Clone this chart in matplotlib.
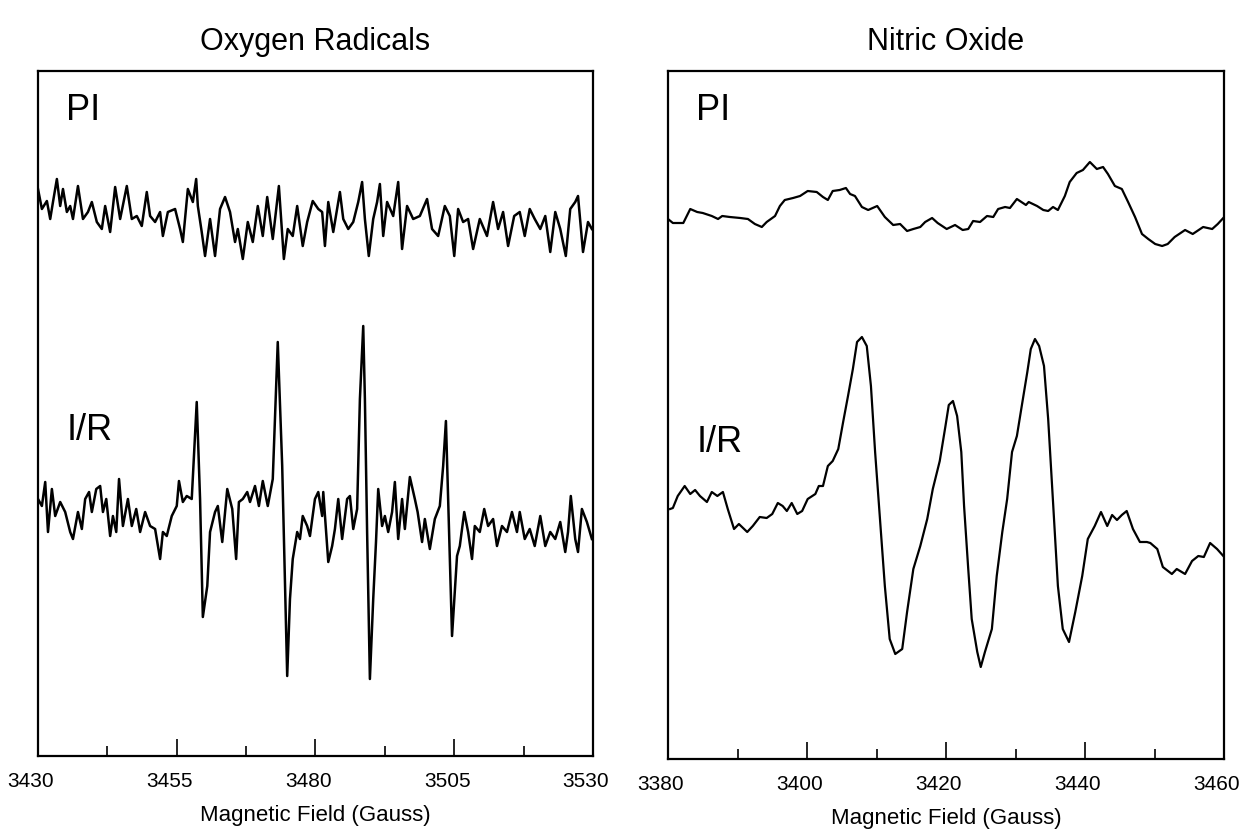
import matplotlib
matplotlib.use("Agg")
import matplotlib.pyplot as plt
import matplotlib.transforms as mtransforms

plt.rcParams['font.family'] = ['Liberation Sans Narrow', 'Liberation Sans', 'DejaVu Sans']

# Oxygen radicals (DMPO adduct), field in Gauss, intensity in arbitrary units
o2_pi_field = [3430.0, 3430.7, 3431.6, 3432.2, 3432.7, 3433.4, 3434.0, 3434.5, 3435.2, 3435.8,
               3436.3, 3437.2, 3438.1, 3439.0, 3439.7, 3440.6, 3441.5, 3442.1, 3443.0, 3443.9,
               3444.8, 3446.0, 3446.9, 3447.8, 3448.7, 3449.6, 3450.2, 3451.1, 3452.0, 3452.5,
               3453.4, 3454.7, 3455.6, 3456.1, 3457.0, 3457.9, 3458.5, 3458.8, 3459.5, 3460.1,
               3461.0, 3461.9, 3462.8, 3463.7, 3464.6, 3465.5, 3466.0, 3466.9, 3467.8, 3468.7,
               3469.6, 3470.5, 3471.3, 3472.3, 3473.4, 3474.3, 3475.0, 3475.9, 3476.7, 3477.7,
               3478.5, 3479.5, 3480.5, 3481.2, 3481.7, 3482.3, 3483.2, 3484.4, 3485.0, 3485.9,
               3486.8, 3487.7, 3488.4, 3488.9, 3489.6, 3490.4, 3491.1, 3491.6, 3492.2, 3492.9,
               3494.0, 3494.9, 3495.6, 3496.5, 3497.6, 3498.8, 3500.1, 3501.0, 3502.1, 3503.3,
               3504.2, 3505.0, 3505.7, 3506.6, 3507.5, 3508.4, 3509.6, 3510.9, 3512.0, 3512.9,
               3513.8, 3514.7, 3515.8, 3516.8, 3517.7, 3518.6, 3519.5, 3520.5, 3521.4, 3522.3,
               3523.2, 3524.1, 3525.1, 3525.9, 3526.8, 3527.3, 3528.2, 3529.1, 3529.8]
o2_pi_signal = [567, 547, 555, 537, 554, 577, 550, 567, 544, 550,
                537, 570, 537, 544, 554, 534, 527, 550, 524, 569,
                537, 570, 537, 540, 530, 564, 540, 534, 544, 520,
                544, 547, 527, 514, 567, 554, 577, 550, 524, 500,
                537, 500, 547, 559, 544, 514, 527, 497, 534, 514,
                550, 520, 559, 517, 570, 497, 527, 520, 550, 510,
                534, 555, 547, 544, 510, 554, 524, 564, 537, 527,
                534, 554, 574, 537, 500, 537, 554, 572, 520, 554,
                540, 574, 507, 550, 537, 540, 557, 527, 520, 550,
                540, 500, 547, 534, 537, 507, 537, 520, 554, 527,
                544, 510, 540, 544, 520, 547, 537, 527, 540, 504,
                544, 527, 500, 547, 554, 560, 504, 534, 527]

o2_ir_field = [3430.0, 3430.7, 3431.3, 3431.8, 3432.5, 3433.1, 3434.0, 3434.9, 3435.8, 3436.3,
               3437.2, 3437.9, 3438.5, 3439.2, 3439.7, 3440.5, 3441.2, 3441.7, 3442.3, 3443.0,
               3443.5, 3444.1, 3444.6, 3445.3, 3446.2, 3446.9, 3447.7, 3448.4, 3449.3, 3450.2,
               3451.1, 3452.0, 3452.5, 3453.2, 3454.1, 3455.0, 3455.4, 3456.1, 3456.8, 3457.7,
               3458.6, 3459.2, 3459.7, 3460.5, 3461.0, 3461.9, 3462.4, 3463.2, 3464.1, 3465.0,
               3465.7, 3466.2, 3466.9, 3467.7, 3468.2, 3469.1, 3469.8, 3470.5, 3471.4, 3472.3,
               3473.2, 3474.0, 3474.9, 3475.4, 3475.9, 3476.7, 3477.2, 3477.7, 3478.5, 3479.0,
               3479.9, 3480.5, 3481.2, 3481.4, 3482.3, 3483.0, 3483.5, 3484.1, 3484.8, 3485.7,
               3486.2, 3486.8, 3487.5, 3488.0, 3488.6, 3488.9, 3489.3, 3489.8, 3490.4, 3490.9,
               3491.3, 3492.0, 3492.5, 3493.1, 3493.8, 3494.3, 3494.9, 3495.6, 3496.1, 3497.0,
               3497.9, 3498.4, 3499.2, 3499.7, 3500.6, 3501.5, 3502.4, 3503.0, 3503.5, 3503.9,
               3504.6, 3505.5, 3506.0, 3506.8, 3507.5, 3508.2, 3508.7, 3509.6, 3510.4, 3511.1,
               3512.0, 3512.7, 3513.6, 3514.5, 3515.4, 3516.3, 3516.8, 3517.7, 3518.6, 3519.5,
               3520.5, 3521.4, 3522.3, 3523.2, 3524.1, 3525.0, 3525.5, 3526.0, 3526.8, 3527.3,
               3528.0, 3528.9, 3529.8]
o2_ir_signal = [257, 250, 274, 224, 267, 240, 254, 244, 224, 217,
                244, 227, 257, 264, 244, 267, 270, 244, 257, 220,
                240, 224, 277, 230, 257, 230, 247, 224, 244, 230,
                227, 197, 224, 220, 240, 250, 275, 254, 260, 257,
                354, 257, 139, 170, 224, 244, 250, 214, 267, 247,
                197, 254, 257, 264, 254, 270, 250, 275, 250, 277,
                414, 290, 80, 157, 197, 224, 217, 240, 230, 220,
                257, 264, 240, 264, 194, 210, 227, 257, 217, 257,
                260, 227, 247, 357, 430, 357, 224, 77, 157, 214,
                267, 230, 240, 224, 244, 274, 217, 257, 227, 279,
                257, 244, 214, 237, 207, 237, 250, 290, 335, 257,
                120, 200, 210, 244, 224, 197, 230, 224, 247, 230,
                237, 210, 230, 224, 244, 224, 244, 217, 227, 210,
                240, 210, 224, 217, 234, 204, 224, 260, 217, 204,
                247, 234, 217]

# Nitric oxide (iron-dithiocarbamate adduct)
no_pi_field = [3380.0, 3380.7, 3382.2, 3383.2, 3384.2, 3385.0, 3386.3, 3387.2, 3387.8, 3388.9,
               3390.4, 3391.5, 3392.5, 3393.5, 3394.2, 3395.4, 3396.1, 3396.8, 3398.0, 3399.0,
               3400.1, 3401.4, 3402.3, 3403.0, 3403.7, 3404.7, 3405.6, 3406.2, 3406.9, 3407.9,
               3408.8, 3410.1, 3411.2, 3412.4, 3413.4, 3414.4, 3415.3, 3416.3, 3417.0, 3418.0,
               3418.8, 3420.1, 3421.3, 3422.4, 3423.2, 3423.9, 3424.9, 3425.9, 3426.8, 3427.5,
               3428.5, 3429.2, 3430.2, 3431.5, 3431.9, 3433.1, 3434.0, 3434.7, 3435.4, 3436.1,
               3437.1, 3437.8, 3438.8, 3439.7, 3440.7, 3441.7, 3442.6, 3443.3, 3444.3, 3445.3,
               3446.2, 3447.2, 3448.2, 3449.1, 3450.1, 3451.1, 3451.9, 3452.9, 3454.4, 3455.5,
               3457.0, 3458.3, 3459.1, 3459.9]
no_pi_signal = [540, 536, 536, 550, 547, 546, 543, 540, 543, 542,
                541, 540, 535, 532, 537, 543, 553, 559, 561, 563,
                568, 567, 562, 559, 568, 569, 571, 565, 563, 552,
                549, 553, 542, 534, 535, 528, 530, 532, 537, 541,
                536, 530, 534, 529, 530, 538, 537, 543, 542, 550,
                552, 551, 560, 554, 557, 553, 549, 548, 552, 549,
                563, 577, 586, 589, 597, 590, 592, 585, 573, 570,
                557, 542, 525, 520, 515, 513, 515, 522, 529, 525,
                532, 530, 535, 541]

no_ir_field = [3380.3, 3380.7, 3381.4, 3382.4, 3383.2, 3383.9, 3384.6, 3385.6, 3386.3, 3387.1,
               3387.9, 3388.6, 3389.5, 3390.2, 3391.4, 3392.2, 3393.2, 3394.2, 3395.0, 3395.8,
               3396.5, 3397.1, 3397.8, 3398.6, 3399.3, 3400.1, 3401.2, 3401.7, 3402.3, 3403.0,
               3403.7, 3404.5, 3405.2, 3405.9, 3406.6, 3407.2, 3407.9, 3408.6, 3409.2, 3409.8,
               3410.5, 3411.2, 3411.9, 3412.7, 3413.7, 3414.4, 3415.3, 3416.3, 3417.3, 3418.1,
               3419.1, 3419.9, 3420.4, 3421.0, 3421.6, 3422.2, 3422.6, 3423.2, 3423.7, 3424.5,
               3425.0, 3425.6, 3426.6, 3427.3, 3428.1, 3428.8, 3429.5, 3430.2, 3430.9, 3431.7,
               3432.2, 3432.8, 3433.4, 3434.1, 3434.7, 3435.4, 3436.1, 3436.8, 3437.7, 3438.6,
               3439.6, 3440.4, 3441.4, 3442.3, 3443.2, 3443.9, 3444.6, 3445.3, 3446.0, 3446.9,
               3447.9, 3448.9, 3449.4, 3450.4, 3451.2, 3452.5, 3453.2, 3454.4, 3455.4, 3456.3,
               3457.1, 3458.0, 3459.0, 3459.9]
no_ir_signal = [250, 251, 263, 273, 265, 269, 263, 257, 267, 263,
                267, 250, 230, 235, 227, 233, 242, 241, 245, 256,
                253, 248, 256, 245, 248, 260, 265, 273, 273, 293,
                298, 310, 337, 363, 390, 417, 422, 413, 373, 307,
                240, 173, 120, 105, 110, 147, 190, 213, 240, 270,
                298, 332, 354, 358, 343, 307, 253, 190, 140, 107,
                92, 107, 130, 183, 227, 260, 307, 323, 353, 387,
                410, 420, 413, 393, 340, 257, 173, 130, 117, 147,
                183, 220, 233, 247, 233, 244, 239, 244, 248, 230,
                217, 217, 216, 210, 192, 185, 190, 185, 198, 203,
                202, 216, 210, 203]

o2_ticks = [3430, 3455, 3480, 3505, 3530]
o2_minor = [3442.5, 3467.5, 3492.5, 3517.5]
no_ticks = [3380, 3400, 3420, 3440, 3460]
no_minor = [3390, 3410, 3430, 3450]

titles = ["Oxygen Radicals", "Nitric Oxide"]
xlabel = "Magnetic Field (Gauss)"


def style_axis(ax, ticks, minor, ylim):
    ax.set_xlim(ticks[0], ticks[-1])
    ax.set_ylim(*ylim)
    ax.set_yticks([])
    ax.set_xticks(ticks)
    ax.set_xticks(minor, minor=True)
    ax.set_xticklabels([str(t) for t in ticks])
    ax.tick_params(axis='x', which='major', direction='in', length=12, width=1.2,
                   labelsize=15, pad=11)
    ax.tick_params(axis='x', which='minor', direction='in', length=7, width=1.2)
    for s in ax.spines.values():
        s.set_linewidth(1.6)
    # labels in the original sit a little left of their ticks
    shift = mtransforms.ScaledTranslation(-7 / 100, 0, ax.figure.dpi_scale_trans)
    for lab in ax.get_xticklabels():
        lab.set_transform(lab.get_transform() + shift)
    ax.set_xlabel(xlabel, fontsize=16, labelpad=10)


fig = plt.figure(figsize=(12.39, 8.37), dpi=100)
W, H = 1239, 837
top = 72
ax1 = fig.add_axes([38 / W, 1 - 757 / H, (593 - 38) / W, (757 - top) / H])
ax2 = fig.add_axes([668 / W, 1 - 760 / H, (1224 - 668) / W, (760 - top) / H])

ax1.plot(o2_pi_field, o2_pi_signal, color='black', lw=1.8)
ax1.plot(o2_ir_field, o2_ir_signal, color='black', lw=1.8)
style_axis(ax1, o2_ticks, o2_minor, (0, 757 - top))

ax2.plot(no_pi_field, no_pi_signal, color='black', lw=1.6)
ax2.plot(no_ir_field, no_ir_signal, color='black', lw=1.6)
style_axis(ax2, no_ticks, no_minor, (0, 760 - top))

fig.text((38 + 593) / 2 / W, 1 - 42 / H, titles[0], ha='center', va='center', fontsize=22)
fig.text((668 + 1224) / 2 / W, 1 - 42 / H, titles[1], ha='center', va='center', fontsize=22)

ax1.text(0.05, 0.93, "PI", transform=ax1.transAxes, ha='left', va='baseline', fontsize=26)
ax2.text(0.05, 0.93, "PI", transform=ax2.transAxes, ha='left', va='baseline', fontsize=26)
ax1.text(0.052, 0.463, "I/R", transform=ax1.transAxes, ha='left', va='baseline', fontsize=26)
ax2.text(0.052, 0.448, "I/R", transform=ax2.transAxes, ha='left', va='baseline', fontsize=26)

fig.savefig("out.png", dpi=100)
